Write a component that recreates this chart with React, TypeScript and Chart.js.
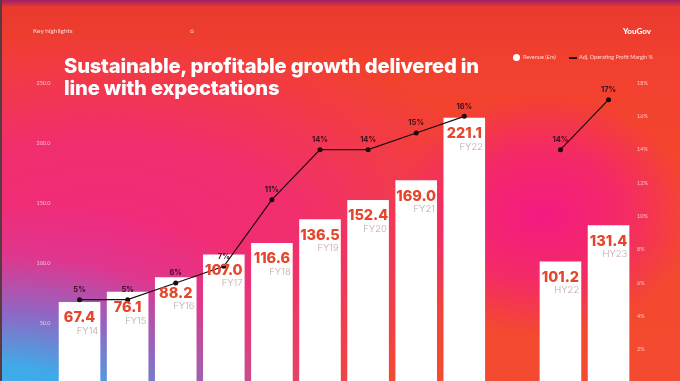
import React, { useEffect, useRef } from "react";
import { Chart, registerables } from "chart.js";

Chart.register(...registerables);

const categories = ["FY14", "FY15", "FY16", "FY17", "FY18", "FY19", "FY20", "FY21", "FY22", "", "HY22", "HY23"];
const revenue = [67.4, 76.1, 88.2, 107.0, 116.6, 136.5, 152.4, 169.0, 221.1, null, 101.2, 131.4];
const margin = [5, 5, 6, 7, 11, 14, 14, 15, 16, null, 14, 17];
const leftTicks = [0, 50, 100, 150, 200, 250];
const rightTicks = [0, 2, 4, 6, 8, 10, 12, 14, 16, 18];

const labelPlugin = {
  id: "barLabels",
  afterDatasetsDraw(chart: any) {
    const ctx = chart.ctx;
    const barMeta = chart.getDatasetMeta(1);
    barMeta.data.forEach((el: any, i: number) => {
      const v = revenue[i];
      if (v == null) return;
      const { x, y, width } = el.getProps(["x", "y", "width"], true);
      ctx.save();
      ctx.fillStyle = "#e6452b";
      ctx.font = "800 14.5px Inter";
      ctx.textAlign = "center";
      ctx.textBaseline = "middle";
      ctx.fillText(v.toFixed(1), x, y + 16);
      ctx.font = "300 9.5px Inter";
      ctx.fillStyle = "#c2a6a3";
      ctx.textAlign = "right";
      ctx.fillText(categories[i], x + width / 2 - 2, y + 29);
      ctx.restore();
    });
    const lineMeta = chart.getDatasetMeta(0);
    lineMeta.data.forEach((el: any, i: number) => {
      const m = margin[i];
      if (m == null) return;
      const { x, y } = el.getProps(["x", "y"], true);
      ctx.save();
      ctx.fillStyle = "#3a0e1c";
      ctx.font = "700 7.5px Inter";
      ctx.textAlign = "center";
      ctx.textBaseline = "middle";
      ctx.fillText(m + "%", x, y - 10);
      ctx.restore();
    });
  },
};

export default function App() {
  const ref = useRef<HTMLCanvasElement | null>(null);
  useEffect(() => {
    if (!ref.current) return;
    const chart = new Chart(ref.current, {
      type: "bar",
      data: {
        labels: categories,
        datasets: [
          {
            type: "line",
            label: "Adj. Operating Profit Margin %",
            data: margin,
            yAxisID: "y1",
            borderColor: "#1c0a0e",
            borderWidth: 1.2,
            pointRadius: 2.5,
            pointBackgroundColor: "#1c0a0e",
            pointBorderWidth: 0,
            spanGaps: false,
            order: 0,
          } as any,
          {
            type: "bar",
            label: "Revenue (£m)",
            data: revenue,
            yAxisID: "y",
            backgroundColor: "#ffffff",
            borderWidth: 0,
            categoryPercentage: 1,
            barPercentage: 0.865,
            order: 1,
          } as any,
        ],
      },
      options: {
        responsive: false,
        animation: false,
        layout: { padding: { top: 83, bottom: 17, left: 0, right: 0 } },
        plugins: { legend: { display: false }, tooltip: { enabled: false } },
        scales: {
          x: { display: false, offset: true, grid: { display: false } },
          y: {
            position: "left",
            min: leftTicks[0],
            max: leftTicks[leftTicks.length - 1],
            afterFit: (s: any) => { s.width = 55.5; },
            afterBuildTicks: (s: any) => { s.ticks = leftTicks.map((v) => ({ value: v })); },
            grid: { display: false, drawTicks: false },
            border: { display: false },
            ticks: {
              padding: 5,
              color: "rgba(255,235,240,0.75)",
              font: { family: "Lato", size: 5.5 },
              callback: (v: any) => Number(v).toFixed(1),
            },
          },
          y1: {
            position: "right",
            min: rightTicks[0],
            max: rightTicks[rightTicks.length - 1],
            afterFit: (s: any) => { s.width = 47.4; },
            afterBuildTicks: (s: any) => { s.ticks = rightTicks.map((v) => ({ value: v })); },
            grid: { display: false, drawTicks: false },
            border: { display: false },
            ticks: {
              padding: 4.5,
              color: "rgba(255,235,240,0.75)",
              font: { family: "Lato", size: 5.5 },
              callback: (v: any) => v + "%",
            },
          },
        },
      },
      plugins: [labelPlugin],
    });
    return () => chart.destroy();
  }, []);

  const bg = [
    "linear-gradient(180deg, rgba(150,30,110,0.9) 0px, rgba(150,30,110,0) 7px)",
    "radial-gradient(ellipse 380px 230px at 0px 430px, rgba(45,185,245,1) 0%, rgba(55,175,240,0.95) 28%, rgba(130,110,210,0.85) 52%, rgba(205,65,170,0.45) 76%, rgba(240,40,120,0) 100%)",
    "radial-gradient(ellipse 150px 120px at 540px 215px, rgba(244,26,130,1) 0%, rgba(244,30,125,0.7) 55%, rgba(244,40,110,0) 100%)",
    "radial-gradient(ellipse 430px 200px at 100px 230px, rgba(240,42,125,1) 0%, rgba(240,42,120,0.85) 45%, rgba(240,50,90,0) 100%)",
    "linear-gradient(180deg, #e8392e 0px, #f2402e 60px, #f4472f 200px, #f34a30 381px)",
  ].join(",");

  const small: React.CSSProperties = {
    position: "absolute",
    fontFamily: "Lato, sans-serif",
    color: "rgba(255,240,240,0.85)",
    whiteSpace: "nowrap",
  };

  return (
    <div
      style={{
        position: "fixed",
        left: 0,
        top: 0,
        width: 680,
        height: 381,
        overflow: "hidden",
        background: bg,
        borderLeft: "2px solid #5a3a40",
        boxSizing: "border-box",
      }}
    >
      <canvas ref={ref} width={680} height={400} style={{ position: "absolute", left: -2, top: 0 }} />
      <div style={{ ...small, left: 31, top: 27, fontSize: 6.5 }}>Key highlights</div>
      <div style={{ ...small, left: 188, top: 27, fontSize: 6.5 }}>6</div>
      <div style={{ ...small, left: 621, top: 26, fontSize: 8, fontWeight: 900, color: "#fff" }}>YouGov</div>
      <div
        style={{
          position: "absolute",
          left: 62,
          top: 55,
          fontFamily: "Inter, sans-serif",
          fontWeight: 800,
          fontSize: 20.2,
          lineHeight: "21.5px",
          letterSpacing: -0.2,
          color: "#ffffff",
          whiteSpace: "nowrap",
        }}
      >
        Sustainable, profitable growth delivered in
        <br />
        line with expectations
      </div>
      <div style={{ position: "absolute", left: 511, top: 54, width: 7, height: 7, borderRadius: "50%", background: "#fff" }} />
      <div style={{ ...small, left: 521, top: 54, fontSize: 5.5 }}>Revenue (£m)</div>
      <div style={{ position: "absolute", left: 567, top: 57, width: 8, height: 1.5, background: "#2a0a10" }} />
      <div style={{ ...small, left: 577, top: 54, fontSize: 5.5 }}>Adj. Operating Profit Margin %</div>
    </div>
  );
}
